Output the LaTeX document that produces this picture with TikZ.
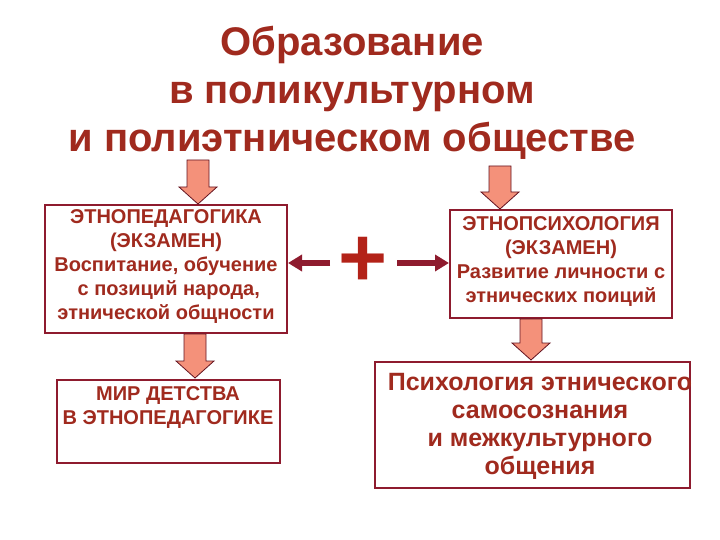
\documentclass[tikz,border=0pt]{standalone}
\usepackage{fontspec}
\setmainfont{Liberation Sans}
\usetikzlibrary{arrows.meta}
\definecolor{tx}{HTML}{A02A1E}
\definecolor{bd}{HTML}{8E1B2E}
\definecolor{ar}{HTML}{F4917A}
\newcommand\blockarr[3]{% x, ytop, ybottom
  \draw[draw=bd!70!black,line width=0.8pt,fill=ar]
   (#1-11,#2) -- (#1+11,#2) -- (#1+11,#3-17) -- (#1+19,#3-17) -- (#1,#3) -- (#1-19,#3-17) -- (#1-11,#3-17) -- cycle;}
\begin{document}
\begin{tikzpicture}[x=1pt,y=-1pt,
 box/.style={draw=bd,line width=2pt,fill=white,inner sep=0pt},
 txt/.style={text=tx,font=\bfseries\fontsize{20}{24}\selectfont,align=center},
 link/.style={draw=bd,line width=6.5pt,-{Triangle[length=14pt,width=16pt]}}]
\useasboundingbox (0,0) rectangle (720,540);
\node[text=tx,font=\bfseries\fontsize{40}{48}\selectfont,align=center] (title) at (352,93) {Образование\\в поликультурном\\и полиэтническом обществе};
\node[box,minimum width=242,minimum height=128] (b1) at (166,269) {};
\node[txt] (t1) at (166,267) {ЭТНОПЕДАГОГИКА\\(ЭКЗАМЕН)\\Воспитание, обучение\\\ с позиций народа,\\этнической общности};
\node[box,minimum width=223,minimum height=83] (b2) at (168,421) {};
\node[txt] (t2) at (168,408) {МИР ДЕТСТВА\\В ЭТНОПЕДАГОГИКЕ};
\node[box,minimum width=222,minimum height=108] (b3) at (561,264) {};
\node[txt] (t3) at (561,262) {ЭТНОПСИХОЛОГИЯ\\(ЭКЗАМЕН)\\Развитие личности с\\этнических поиций};
\node[box,minimum width=315,minimum height=126] (b4) at (532,425) {};
\node[txt,font=\bfseries\fontsize{25}{28}\selectfont] (t4) at (540,426) {Психология этнического\\самосознания\\и межкультурного\\общения};
\blockarr{198}{160}{204}
\blockarr{500}{166}{209}
\blockarr{195}{334}{378}
\blockarr{531}{319}{360}
\node[text=tx!80!red,font=\bfseries\fontsize{84}{84}\selectfont] (plus) at (363,262) {+};
\coordinate (pl) at (330,263);
\coordinate (pr) at (397,263);
\draw[link] (pl) -- (b1.east|-pl);
\draw[link] (pr) -- (b3.west|-pr);
\end{tikzpicture}
\end{document}
